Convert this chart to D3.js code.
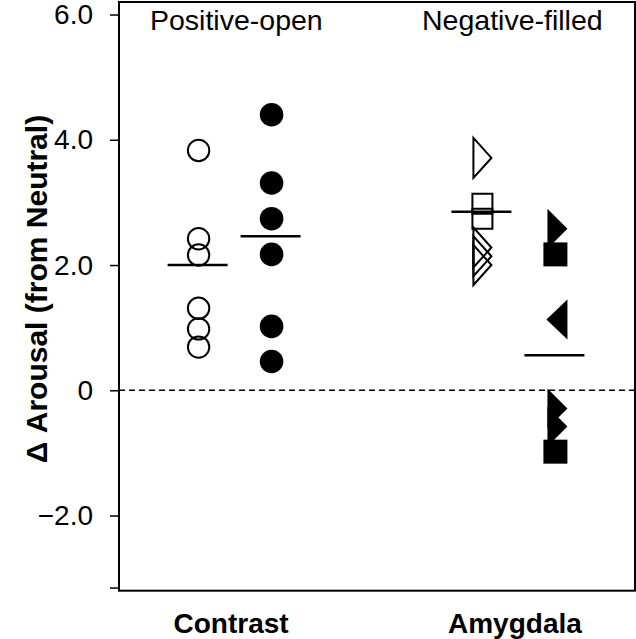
<!DOCTYPE html>
<html><head><meta charset="utf-8">
<script src="https://cdn.jsdelivr.net/npm/d3@7"></script>
<style>body{margin:0;background:#fff}svg{display:block}text{font-family:"Liberation Sans",Arial,Helvetica,sans-serif;fill:#000}</style>
</head><body><svg id="c" width="636" height="639"></svg>
<script>
const categories = ["Contrast", "Amygdala"];
const groups = ["Positive", "Negative"];
const groupLabels = ["Positive-open", "Negative-filled"];
// values per category / group, with marker shape
const contrastPositive = [3.83, 2.42, 2.16, 1.31, 0.98, 0.69];
const contrastPositiveShapes = ["circle","circle","circle","circle","circle","circle"];
const contrastNegative = [4.40, 3.31, 2.74, 2.17, 1.02, 0.46];
const contrastNegativeShapes = ["circle","circle","circle","circle","circle","circle"];
const amygdalaPositive = [3.71, 2.98, 2.74, 2.28, 2.14, 2.00];
const amygdalaPositiveShapes = ["triRight","square","square","triRight","triRight","triRight"];
const amygdalaNegative = [2.58, 2.17, 1.13, -0.29, -0.58, -0.98];
const amygdalaNegativeShapes = ["triRight","square","triLeft","triRight","triRight","square"];
const groupMeans = { Contrast: [2.00, 2.46], Amygdala: [2.85, 0.56] };
const yTickValues = [6, 4, 2, 0, -2, -3.15];
const yTickLabels = ["6.0", "4.0", "2.0", "0", "\u22122.0", ""];
const yDomain = [-3.2, 6.2];

const series = [
  {cat:"Contrast", grp:"Positive", vals:contrastPositive, shapes:contrastPositiveShapes},
  {cat:"Contrast", grp:"Negative", vals:contrastNegative, shapes:contrastNegativeShapes},
  {cat:"Amygdala", grp:"Positive", vals:amygdalaPositive, shapes:amygdalaPositiveShapes},
  {cat:"Amygdala", grp:"Negative", vals:amygdalaNegative, shapes:amygdalaNegativeShapes}
];

const svg = d3.select("#c");
const L = 119, R = 635, T = 2, B = 590.7;
const y = d3.scaleLinear().domain(yDomain).range([B, T]);
const x0 = d3.scalePoint().domain(categories).range([L, R]).padding(0.409);
const x1 = d3.scalePoint().domain(groups).range([-36.5, 36.5]);

// zero dashed line
svg.append("line").attr("x1", L).attr("x2", R).attr("y1", y(0)).attr("y2", y(0))
  .attr("stroke", "#000").attr("stroke-width", 1.5).attr("stroke-dasharray", "6,4");

// frame
svg.append("rect").attr("x", L).attr("y", T).attr("width", R - L).attr("height", B - T)
  .attr("fill", "none").attr("stroke", "#000").attr("stroke-width", 2);

// y axis
const yAxis = d3.axisLeft(y).tickValues(yTickValues).tickSize(9).tickPadding(17)
  .tickFormat((d, i) => yTickLabels[i]);
const ga = svg.append("g").attr("transform", `translate(${L},0)`).call(yAxis);
ga.select(".domain").remove();
ga.selectAll(".tick line").attr("stroke", "#000").attr("stroke-width", 1.5);
ga.selectAll(".tick text").attr("font-size", 28).attr("font-family", "Liberation Sans, Arial, sans-serif").attr("fill", "#000");

// y title
svg.append("text").attr("transform", `translate(47,289) rotate(-90)`)
  .attr("text-anchor", "middle").attr("font-size", 30).attr("font-weight", "bold")
  .text("\u0394 Arousal (from Neutral)");

// category labels
svg.selectAll(".cat").data(categories).enter().append("text")
  .attr("x", d => x0(d) - 4).attr("y", 633).attr("text-anchor", "middle")
  .attr("font-size", 28).attr("font-weight", "bold").text(d => d);

// group labels
const glx = [150, 422];
svg.selectAll(".gl").data(groupLabels).enter().append("text")
  .attr("x", (d, i) => glx[i]).attr("y", 30).attr("font-size", 28.5).text(d => d);

function shapePath(shape, cx, cy, filled) {
  if (shape === "square") {
    const h = filled ? 12 : 10;
    return `M${cx-h},${cy-h}H${cx+h}V${cy+h}H${cx-h}Z`;
  }
  if (shape === "triRight") {
    const l = filled ? cx - 8 : cx - 9, t = filled ? cx + 12 : cx + 9, h = 20;
    return `M${l},${cy-h}L${t},${cy}L${l},${cy+h}Z`;
  }
  if (shape === "triLeft") {
    const r = cx + 12, t = cx - 9, h = 20;
    return `M${r},${cy-h}L${t},${cy}L${r},${cy+h}Z`;
  }
  return null;
}

series.forEach(s => {
  const cx = x0(s.cat) + x1(s.grp);
  const filled = s.grp === "Negative";
  const g = svg.append("g");
  s.vals.forEach((v, i) => {
    const shape = s.shapes[i];
    if (shape === "circle") {
      g.append("circle").attr("cx", cx).attr("cy", y(v)).attr("r", filled ? 11.8 : 10.7)
        .attr("fill", filled ? "#000" : "none").attr("stroke", filled ? "none" : "#000")
        .attr("stroke-width", 2);
    } else {
      g.append("path").attr("d", shapePath(shape, cx, y(v), filled))
        .attr("fill", filled ? "#000" : "none").attr("stroke", filled ? "none" : "#000")
        .attr("stroke-width", 2).attr("stroke-linejoin", "miter");
    }
  });
  const m = groupMeans[s.cat][groups.indexOf(s.grp)];
  svg.append("line").attr("x1", cx - 31).attr("x2", cx + 29).attr("y1", y(m)).attr("y2", y(m))
    .attr("stroke", "#000").attr("stroke-width", 2.4);
});
</script></body></html>
